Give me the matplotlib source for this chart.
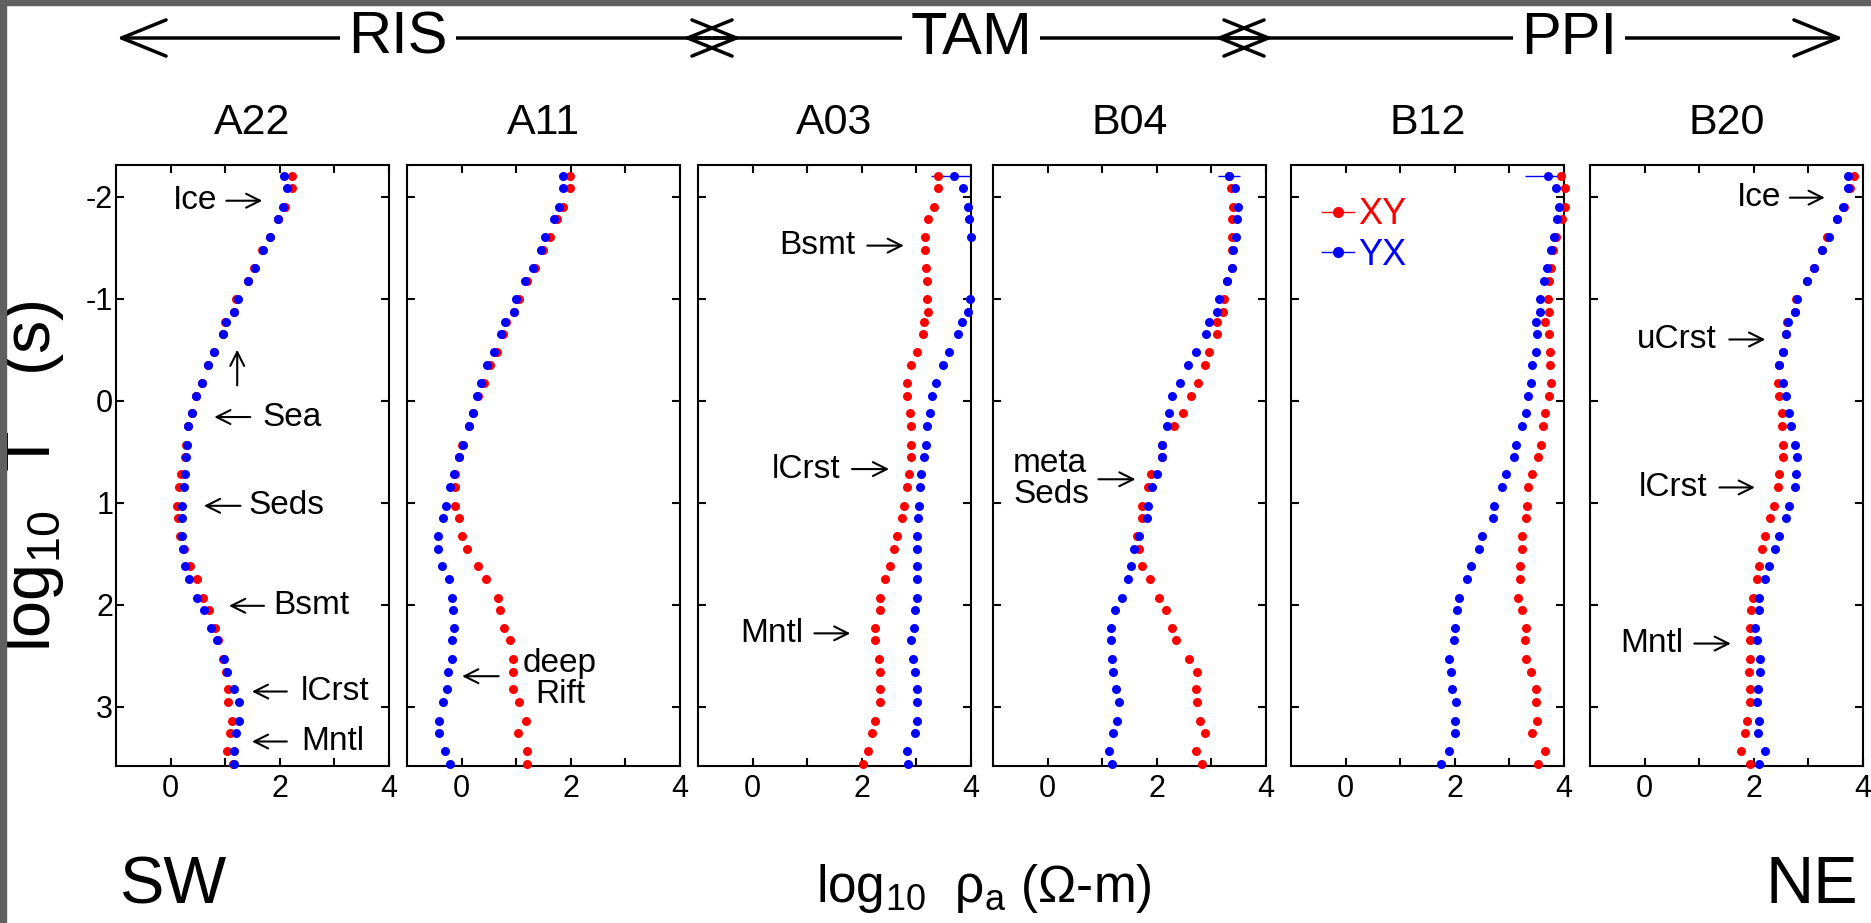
import matplotlib
matplotlib.use("Agg")
import matplotlib.pyplot as plt
import numpy as np
from matplotlib.patches import FancyArrowPatch, Rectangle
from matplotlib.lines import Line2D

plt.rcParams["font.family"] = ["Liberation Sans", "DejaVu Sans"]
plt.rcParams["mathtext.fontset"] = "custom"
plt.rcParams["mathtext.rm"] = "Liberation Sans"
plt.rcParams["mathtext.it"] = "Liberation Sans:italic"
plt.rcParams["axes.unicode_minus"] = False

# periods, log10 T (s), shared by all stations
log_T = [-2.2, -2.08, -1.9, -1.78, -1.6, -1.48, -1.3, -1.17, -1.0, -0.87,
         -0.77, -0.65, -0.48, -0.35, -0.17, -0.05, 0.12, 0.25, 0.43, 0.55,
         0.72, 0.85, 1.03, 1.15, 1.33, 1.45, 1.62, 1.75, 1.93, 2.05,
         2.23, 2.35, 2.53, 2.66, 2.83, 2.95, 3.14, 3.26, 3.43, 3.56]

stations = ["A22", "A11", "A03", "B04", "B12", "B20"]

# log10 apparent resistivity, XY (red) and YX (blue)
a22_xy = [2.23, 2.23, 2.09, 1.97, 1.82, 1.68, 1.52, 1.42, 1.20, 1.16,
          0.99, 0.96, 0.80, 0.68, 0.57, 0.46, 0.40, 0.32, 0.28, 0.26,
          0.19, 0.16, 0.12, 0.14, 0.18, 0.24, 0.35, 0.48, 0.59, 0.71,
          0.82, 0.87, 0.96, 1.01, 1.05, 1.05, 1.13, 1.09, 1.04, 1.15]
a22_yx = [2.07, 2.13, 2.06, 1.97, 1.82, 1.70, 1.54, 1.42, 1.24, 1.17,
          1.01, 0.96, 0.80, 0.68, 0.57, 0.46, 0.40, 0.32, 0.30, 0.28,
          0.26, 0.25, 0.21, 0.21, 0.20, 0.22, 0.26, 0.34, 0.49, 0.62,
          0.74, 0.85, 0.98, 1.04, 1.17, 1.26, 1.26, 1.20, 1.17, 1.17]

a11_xy = [1.99, 1.98, 1.86, 1.75, 1.61, 1.49, 1.35, 1.20, 1.05, 0.96,
          0.82, 0.76, 0.64, 0.52, 0.41, 0.30, 0.21, 0.13, 0.00, -0.05,
          -0.13, -0.13, -0.13, -0.05, 0.00, 0.10, 0.30, 0.44, 0.66, 0.70,
          0.77, 0.88, 0.94, 0.95, 0.95, 1.05, 1.18, 1.03, 1.19, 1.19]
a11_yx = [1.85, 1.86, 1.79, 1.69, 1.52, 1.45, 1.30, 1.16, 0.99, 0.96,
          0.79, 0.73, 0.60, 0.47, 0.35, 0.29, 0.21, 0.13, 0.02, -0.05,
          -0.14, -0.22, -0.28, -0.34, -0.43, -0.43, -0.35, -0.23, -0.17, -0.16,
          -0.14, -0.17, -0.18, -0.24, -0.26, -0.34, -0.41, -0.41, -0.30, -0.22]

a03_xy = [3.39, 3.40, 3.33, 3.22, 3.15, 3.15, 3.17, 3.19, 3.20, 3.21,
          3.14, 3.13, 3.01, 2.90, 2.83, 2.83, 2.88, 2.91, 2.91, 2.90,
          2.87, 2.83, 2.77, 2.73, 2.64, 2.59, 2.52, 2.42, 2.34, 2.33,
          2.24, 2.24, 2.31, 2.33, 2.33, 2.34, 2.25, 2.18, 2.11, 2.02]
a03_yx = [3.69, 3.86, 3.94, 3.96, 4.00, np.nan, np.nan, np.nan, 3.99, 3.94,
          3.83, 3.77, 3.60, 3.48, 3.36, 3.29, 3.25, 3.20, 3.17, 3.14,
          3.09, 3.07, 3.05, 3.03, 3.02, 3.02, 3.02, 3.01, 3.01, 2.98,
          2.96, 2.90, 2.94, 2.98, 3.02, 3.02, 3.02, 2.97, 2.83, 2.85]

b04_xy = [3.33, 3.36, 3.39, 3.37, 3.37, 3.37, 3.37, 3.29, 3.23, 3.22,
          3.11, 3.10, 2.96, 2.88, 2.76, 2.63, 2.48, 2.31, 2.09, 2.09,
          1.90, 1.83, 1.73, 1.73, 1.63, 1.68, 1.73, 1.87, 2.04, 2.16,
          2.28, 2.36, 2.59, 2.73, 2.72, 2.74, 2.79, 2.88, 2.72, 2.82]
b04_yx = [3.33, 3.43, 3.48, 3.46, 3.45, 3.40, 3.37, 3.29, 3.14, 3.10,
          2.96, 2.90, 2.71, 2.57, 2.42, 2.28, 2.22, 2.18, 2.10, 2.09,
          2.01, 1.91, 1.84, 1.82, 1.68, 1.59, 1.52, 1.47, 1.36, 1.23,
          1.17, 1.17, 1.18, 1.20, 1.26, 1.30, 1.28, 1.20, 1.13, 1.18]

b12_xy = [3.94, 4.02, 4.02, 3.96, 3.85, 3.80, 3.76, 3.73, 3.70, 3.72,
          3.66, 3.72, 3.75, 3.75, 3.77, 3.73, 3.66, 3.62, 3.58, 3.52,
          3.42, 3.34, 3.33, 3.30, 3.23, 3.23, 3.19, 3.19, 3.15, 3.23,
          3.30, 3.29, 3.31, 3.40, 3.48, 3.48, 3.51, 3.42, 3.65, 3.52]
b12_yx = [3.71, 3.85, 3.90, 3.88, 3.82, 3.77, 3.68, 3.64, 3.56, 3.56,
          3.48, 3.51, 3.48, 3.42, 3.39, 3.34, 3.30, 3.23, 3.12, 3.08,
          2.94, 2.87, 2.72, 2.70, 2.50, 2.44, 2.29, 2.22, 2.07, 2.04,
          2.01, 1.99, 1.90, 1.93, 1.94, 2.02, 2.01, 2.01, 1.89, 1.74]

b20_xy = [3.84, 3.76, 3.65, 3.52, 3.34, 3.24, 3.10, 2.97, 2.77, 2.76,
          2.60, 2.59, 2.53, 2.46, 2.45, 2.47, 2.51, 2.52, 2.53, 2.53,
          2.46, 2.44, 2.37, 2.30, 2.21, 2.15, 2.09, 2.05, 1.98, 1.95,
          1.93, 1.93, 1.93, 1.92, 1.93, 1.93, 1.88, 1.84, 1.77, 1.93]
b20_yx = [3.73, 3.73, 3.63, 3.52, 3.37, 3.24, 3.10, 2.97, 2.79, 2.76,
          2.62, 2.59, 2.53, 2.46, 2.53, 2.59, 2.65, 2.68, 2.76, 2.80,
          2.77, 2.76, 2.65, 2.59, 2.47, 2.39, 2.27, 2.21, 2.10, 2.10,
          2.02, 2.05, 2.12, 2.12, 2.07, 2.05, 2.09, 2.07, 2.21, 2.10]

xy_all = [a22_xy, a11_xy, a03_xy, b04_xy, b12_xy, b20_xy]
yx_all = [a22_yx, a11_yx, a03_yx, b04_yx, b12_yx, b20_yx]
# error on the shortest-period YX estimate
yx_err0 = [0.0, 0.0, 0.42, 0.2, 0.43, 0.07]

# labels: (text, x, y, ha) and arrows (x_tail, y_tail, x_head, y_head)
notes = {
    "A22": [("Ice", 0.05, -1.96, "left"), ("Sea", 1.68, 0.16, "left"),
            ("Seds", 1.43, 1.03, "left"), ("Bsmt", 1.88, 2.01, "left"),
            ("lCrst", 2.39, 2.85, "left"), ("Mntl", 2.39, 3.34, "left")],
    "A11": [("deep\nRift", 1.8, 2.73, "center")],
    "A03": [("Bsmt", 0.48, -1.52, "left"), ("lCrst", 0.35, 0.67, "left"),
            ("Mntl", -0.23, 2.28, "left")],
    "B04": [("meta\nSeds", -0.63, 0.77, "left")],
    "B12": [],
    "B20": [("Ice", 1.69, -1.99, "left"), ("uCrst", -0.14, -0.60, "left"),
            ("lCrst", -0.11, 0.85, "left"), ("Mntl", -0.45, 2.38, "left")],
}
arrows = {
    "A22": [(1.02, -1.96, 1.68, -1.96), (1.22, -0.15, 1.22, -0.50),
            (1.46, 0.16, 0.80, 0.16), (1.28, 1.03, 0.61, 1.03),
            (1.71, 2.01, 1.07, 2.01), (2.13, 2.85, 1.49, 2.85),
            (2.13, 3.34, 1.49, 3.34)],
    "A11": [(0.68, 2.70, 0.01, 2.70)],
    "A03": [(2.10, -1.52, 2.77, -1.52), (1.82, 0.67, 2.50, 0.67),
            (1.13, 2.28, 1.79, 2.28)],
    "B04": [(0.93, 0.77, 1.61, 0.77)],
    "B12": [],
    "B20": [(2.66, -1.99, 3.30, -1.99), (1.55, -0.60, 2.21, -0.60),
            (1.37, 0.85, 2.02, 0.85), (0.91, 2.38, 1.58, 2.38)],
}

W, H = 1871, 923
fig = plt.figure(figsize=(W / 100, H / 100), dpi=100)

def fx(px):
    return px / W

def fy(px):
    return 1 - px / H

lefts = [116, 407, 698, 993, 1291, 1590]
ax_w, ax_top, ax_bot = 273, 165, 766

for i, st in enumerate(stations):
    ax = fig.add_axes([fx(lefts[i]), fy(ax_bot), ax_w / W, (ax_bot - ax_top) / H])
    ax.plot(xy_all[i], log_T, "o", color="red", ms=6.5, mec="none", clip_on=False, zorder=3)
    ax.plot(yx_all[i], log_T, "o", color="blue", ms=6.5, mec="none", clip_on=False, zorder=4)
    if yx_err0[i] > 0:
        ax.errorbar(yx_all[i][0], log_T[0], xerr=yx_err0[i], fmt="none",
                    ecolor="blue", elinewidth=1, capsize=0, zorder=2)

    ax.set_xlim(-1, 4)
    ax.set_ylim(3.58, -2.31)
    ax.set_xticks([0, 2, 4])
    ax.set_xticks([1, 3], minor=True)
    ax.set_yticks([-2, -1, 0, 1, 2, 3])
    ax.tick_params(which="both", direction="in", top=True, right=True,
                   length=6, width=1.5, labelsize=22)
    ax.tick_params(axis="x", pad=6)
    ax.tick_params(axis="y", pad=2)
    if i > 0:
        ax.set_yticklabels([])
    for s in ax.spines.values():
        s.set_linewidth(1.5)

    ax.set_title(st, fontsize=31, pad=22)

    for txt, tx, ty, ha in notes[st]:
        ax.text(tx, ty, txt, fontsize=24, ha=ha, va="center",
                multialignment=ha, linespacing=1.0, zorder=5)
    for x0, y0, x1, y1 in arrows[st]:
        ax.annotate("", xy=(x1, y1), xytext=(x0, y0),
                    arrowprops=dict(arrowstyle="->,head_length=0.5,head_width=0.25",
                                    lw=1.5, color="black", shrinkA=0, shrinkB=0,
                                    mutation_scale=20))

    if st == "B12":
        handles = [Line2D([0], [0], color="red", marker="o", ms=7, lw=1),
                   Line2D([0], [0], color="blue", marker="o", ms=7, lw=1)]
        ax.legend(handles, ["XY", "YX"], loc="upper left", bbox_to_anchor=(0.06, 0.97),
                  frameon=False, fontsize=26, handlelength=0.9, handletextpad=0.1,
                  labelspacing=0.15, borderaxespad=0, labelcolor=["red", "blue"])

# region arrows along the top
regions = [("RIS", 117, 741, 398), ("TAM", 683, 1273, 971), ("PPI", 1215, 1843, 1569)]
for name, x0, x1, xc in regions:
    arr = FancyArrowPatch((fx(x0), fy(38)), (fx(x1), fy(38)), transform=fig.transFigure,
                          arrowstyle="<->,head_length=1.6,head_width=0.65",
                          mutation_scale=20, lw=2.5, color="black", shrinkA=0, shrinkB=0)
    fig.patches.append(arr)
    fig.text(fx(xc), fy(38), name, fontsize=43, ha="center", va="center",
             bbox=dict(fc="white", ec="none", pad=6))

fig.text(fx(33), fy(476), r"log$_{10}$  T   (s)", fontsize=48, rotation=90,
         ha="center", va="center")
fig.text(fx(984), fy(902), r"log$_{10}$  ρ$_\mathrm{a}$ (Ω-m)", fontsize=37,
         ha="center", va="baseline")
fig.text(fx(119), fy(903), "SW", fontsize=48, ha="left", va="baseline")
fig.text(fx(1858), fy(903), "NE", fontsize=48, ha="right", va="baseline")

# dark frame strips on the left and top edge of the picture
fig.add_artist(Rectangle((0, 0), fx(6), 1, transform=fig.transFigure,
                         color="#606060", zorder=10))
fig.add_artist(Rectangle((0, fy(5)), 1, 5 / H, transform=fig.transFigure,
                         color="#606060", zorder=10))

fig.savefig("out.png", dpi=100)
